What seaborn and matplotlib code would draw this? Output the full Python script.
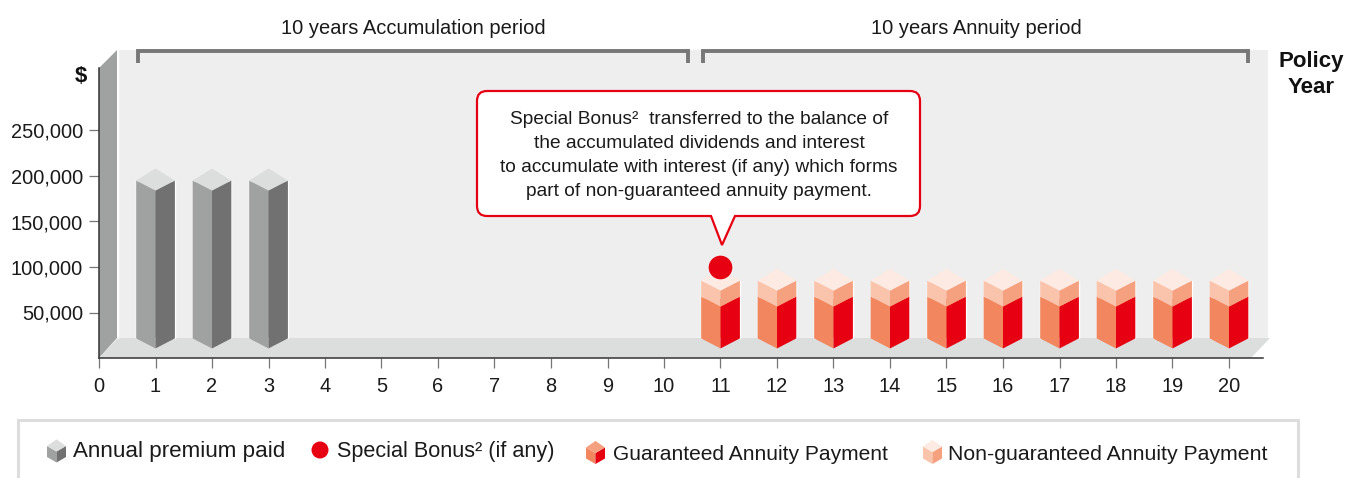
import matplotlib
matplotlib.use('Agg')
import matplotlib.pyplot as plt
import seaborn as sns
from matplotlib.patches import Circle, PathPatch, Polygon
from matplotlib.path import Path

# chart values
premium_years = [1, 2, 3]
premium_top = [195000, 195000, 195000]
annuity_years = [11, 12, 13, 14, 15, 16, 17, 18, 19, 20]
guaranteed_top = [67500] * 10
annuity_top = [85000] * 10
bonus_year = [11]
bonus_value = [100000]
floor_value = 21500
year_ticks = list(range(0, 21))
value_ticks = [50000, 100000, 150000, 200000, 250000]

GREY = ('#dcdddd', '#a0a2a1', '#717171')
RED = ('#f5a17f', '#f2865e', '#e60012')
PALE = ('#fdeae2', '#fac3ac', '#f5a17f')
BONUS = '#e60012'
FONT = 'Liberation Sans'

W, H = 1348, 478
HALF_W = 0.342
DEPTH = 11000

sns.set_theme(style='white')
plt.rcParams['font.family'] = [FONT, 'DejaVu Sans']

fig = plt.figure(figsize=(W / 100, H / 100), dpi=100, facecolor='white')
# main axes: x=0 at px 99, 56.5 px a year; y=0 at px 358, 45.5 px per 50,000
ax = fig.add_axes([99 / W, (H - 358) / H, (1263 - 99) / W, (358 - 68) / H])
ax.patch.set_alpha(0)
ax.set_zorder(2)
# pixel layer for the frame, callout and legend
bg = fig.add_axes([0, 0, 1, 1], zorder=1)
top = fig.add_axes([0, 0, 1, 1], zorder=3)
for a in (bg, top):
    a.set_xlim(0, W)
    a.set_ylim(H, 0)
    a.axis('off')
    a.patch.set_alpha(0)

# back wall, side wall, floor
bg.add_patch(Polygon([(118, 50), (1268, 50), (1268, 338), (118, 338)], fc='#eeeeee', lw=0))
bg.add_patch(Polygon([(99, 68), (117, 50), (117, 338), (99, 358)], fc='#a0a2a1', lw=0))
bg.add_patch(Polygon([(99, 358), (118, 338), (1270, 338), (1251, 358)], fc='#dcdddd', lw=0))
bg.plot([118, 118], [50, 338], color='white', lw=1)


def prism(a, x, y0, y1, hw, d, cols, cap=True, z=3):
    # d is positive upwards in the axes' own y units
    _, left, right = cols
    a.add_patch(Polygon([(x - hw, y0), (x, y0 - d), (x, y1 - d), (x - hw, y1)], fc=left, lw=0, zorder=z))
    a.add_patch(Polygon([(x + hw, y0), (x, y0 - d), (x, y1 - d), (x + hw, y1)], fc=right, lw=0, zorder=z))
    if cap:
        a.add_patch(Polygon([(x - hw, y1), (x, y1 + 1.2 * d), (x + hw, y1), (x, y1 - d)], fc=cols[0], lw=0, zorder=z))


# bar bodies
sns.barplot(x=premium_years, y=[v - floor_value for v in premium_top], native_scale=True,
            width=2 * HALF_W, color=GREY[1], saturation=1, bottom=floor_value, ax=ax, zorder=2)
sns.barplot(x=annuity_years, y=[v - floor_value for v in guaranteed_top], native_scale=True,
            width=2 * HALF_W, color=RED[1], saturation=1, bottom=floor_value, ax=ax, zorder=2)
sns.barplot(x=annuity_years, y=[a - b for a, b in zip(annuity_top, guaranteed_top)], native_scale=True,
            width=2 * HALF_W, color=PALE[1], saturation=1, bottom=guaranteed_top[0], ax=ax, zorder=2)

# 3d faces
for x, v in zip(premium_years, premium_top):
    prism(ax, x, floor_value, v, HALF_W, DEPTH, GREY)
for x, g, t in zip(annuity_years, guaranteed_top, annuity_top):
    prism(ax, x, floor_value, g, HALF_W, DEPTH, RED, cap=False)
    prism(ax, x, g, t, HALF_W, DEPTH, PALE)

sns.scatterplot(x=bonus_year, y=bonus_value, color=BONUS, s=290, linewidth=0, ax=ax, zorder=4, clip_on=False)

ax.set_xlim(0, (1263 - 99) / 56.5)
ax.set_ylim(0, (358 - 68) / 45.5 * 50000)
ax.set_xticks(year_ticks)
ax.set_yticks(value_ticks)
ax.set_yticklabels([f'{v:,}' for v in value_ticks])
ax.tick_params(axis='both', left=True, bottom=True, length=7, width=0.9, color='#777777',
               labelsize=14.4, labelcolor='#1a1a1a', pad=5)
ax.tick_params(axis='x', pad=6.5)
ax.tick_params(axis='y', pad=4.5)
sns.despine(ax=ax)
for s in ('left', 'bottom'):
    ax.spines[s].set_color('#333333')
    ax.spines[s].set_linewidth(1.1)

# period brackets
for x0, x1 in ((138, 688), (703, 1248)):
    top.plot([x0, x0, x1, x1], [63, 51, 51, 63], color='#777777', lw=2.8,
             solid_joinstyle='miter', solid_capstyle='butt')
top.text(413, 28, '10 years Accumulation period', ha='center', va='center', fontsize=14.5, color='#1a1a1a')
top.text(976, 28, '10 years Annuity period', ha='center', va='center', fontsize=14.5, color='#1a1a1a')

top.text(81, 76, '$', ha='center', va='center', fontsize=16, fontweight='bold', color='#111111')
top.text(1311, 61, 'Policy', ha='center', va='center', fontsize=16, fontweight='bold', color='#111111')
top.text(1311, 87, 'Year', ha='center', va='center', fontsize=16, fontweight='bold', color='#111111')

# callout with its pointer
l, t, r, b, k = 477, 91, 920, 216, 10
verts = [(l + k, t), (r - k, t), (r, t), (r, t + k), (r, b - k), (r, b), (r - k, b),
         (735, b), (722, 245), (711, b), (l + k, b), (l, b), (l, b - k), (l, t + k), (l, t), (l + k, t)]
codes = [Path.MOVETO, Path.LINETO, Path.CURVE3, Path.CURVE3, Path.LINETO, Path.CURVE3, Path.CURVE3,
         Path.LINETO, Path.LINETO, Path.LINETO, Path.LINETO, Path.CURVE3, Path.CURVE3, Path.LINETO,
         Path.CURVE3, Path.CURVE3]
top.add_patch(PathPatch(Path(verts, codes), fc='white', ec=BONUS, lw=1.6, joinstyle='miter'))
callout_lines = ['Special Bonus²  transferred to the balance of',
                 'the accumulated dividends and interest',
                 'to accumulate with interest (if any) which forms',
                 'part of non-guaranteed annuity payment.']
for i, line in enumerate(callout_lines):
    top.text(699, 119 + 24 * i, line, ha='center', va='center', fontsize=13.8, color='#1a1a1a')

# legend frame, open at the bottom
top.plot([18, 18, 1298, 1298], [478, 420, 420, 478], color='#dddddd', lw=2.2,
         solid_joinstyle='miter', solid_capstyle='butt')
prism(top, 56.5, 457, 446, 9.5, -5.5, GREY)
top.add_patch(Circle((320, 450), 8.5, fc=BONUS, lw=0))
prism(top, 595.5, 458.5, 447.5, 9.5, -5.5, RED)
prism(top, 932.5, 458.5, 446.5, 9.5, -5.5, PALE)
legend_items = [(73, 452, 'Annual premium paid', 16.1), (337, 452, 'Special Bonus² (if any)', 15.6),
                (613, 454, 'Guaranteed Annuity Payment', 15.1), (948, 454, 'Non-guaranteed Annuity Payment', 15.3)]
for x, y, s, size in legend_items:
    top.text(x, y, s, ha='left', va='center', fontsize=size, color='#1a1a1a')

fig.savefig('out.png', dpi=100)
